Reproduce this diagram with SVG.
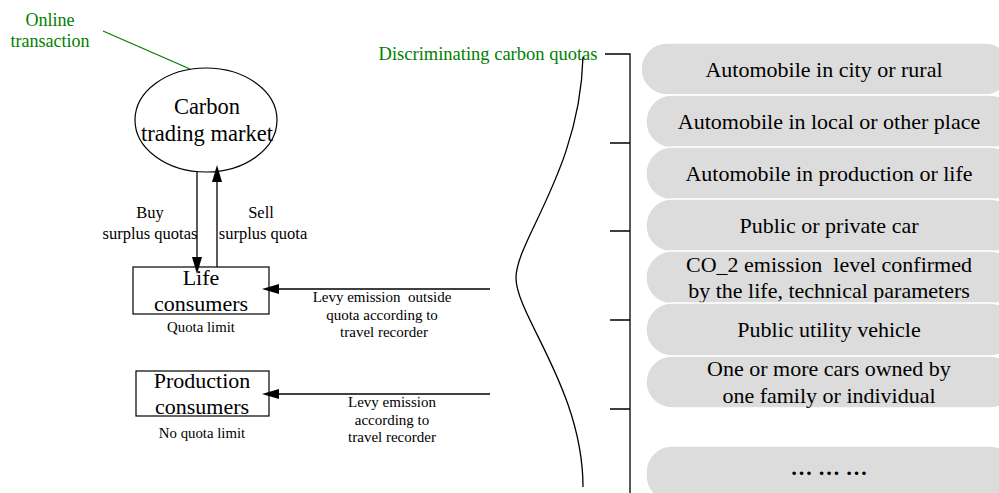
<svg xmlns="http://www.w3.org/2000/svg" width="999" height="493" viewBox="0 0 999 493">
<style>
.pill{fill:#dcdcdc;stroke:#fff;stroke-width:1.5}
.box{fill:#fff;stroke:#000;stroke-width:1.2}
.ln{fill:none;stroke:#000;stroke-width:1.3}
text{white-space:pre}
</style>
<defs>
<marker id="ah" viewBox="0 0 10 10" refX="10" refY="5" markerWidth="10" markerHeight="10" markerUnits="userSpaceOnUse" orient="auto" overflow="visible">
<path d="M0,0 L10,5 L0,10 Z" fill="#000" transform="scale(1.7,1)"/>
</marker>
</defs>
<rect width="999" height="493" fill="#fff"/>
<g font-family="Liberation Serif, Times New Roman, serif" text-anchor="middle" fill="#000">
<g id="pills" font-size="22">
<g id="p1"><rect class="pill" x="641" y="43" width="370" height="52" rx="26"/><text x="824" y="77">Automobile in city or rural</text></g>
<g id="p2"><rect class="pill" x="646" y="95" width="370" height="53" rx="26"/><text x="829" y="129">Automobile in local or other place</text></g>
<g id="p3"><rect class="pill" x="646" y="147" width="370" height="53" rx="26"/><text x="829" y="181">Automobile in production or life</text></g>
<g id="p4"><rect class="pill" x="646" y="199" width="370" height="53" rx="26"/><text x="829" y="233">Public or private car</text></g>
<g id="p5"><rect class="pill" x="646" y="251" width="370" height="53" rx="26"/><text x="829" y="272">CO_2 emission  level confirmed</text><text x="829" y="298">by the life, technical parameters</text></g>
<g id="p6"><rect class="pill" x="646" y="303" width="370" height="53" rx="26"/><text x="829" y="337">Public utility vehicle</text></g>
<g id="p7"><rect class="pill" x="646" y="356" width="370" height="52" rx="26"/><text x="829" y="376">One or more cars owned by</text><text x="829" y="403">one family or individual</text></g>
<g id="p8"><rect class="pill" x="646" y="446" width="370" height="56" rx="26"/><text x="829" y="475" font-weight="bold">… … …</text></g>
</g>
<g id="market" font-size="22.5"><ellipse class="box" cx="206" cy="120" rx="71" ry="52"/><text x="207" y="114">Carbon</text><text x="207" y="141">trading market</text></g>
<g id="life" font-size="22"><rect class="box" x="133" y="267" width="136" height="47"/><text x="201" y="285">Life</text><text x="201" y="311">consumers</text><text x="201" y="332" font-size="14.8">Quota limit</text></g>
<g id="production" font-size="22"><rect class="box" x="136" y="371" width="133" height="45"/><text x="202" y="388">Production</text><text x="202" y="414">consumers</text><text x="202" y="438" font-size="14.8">No quota limit</text></g>
<g id="online" fill="#008000" font-size="18"><text x="50" y="26">Online</text><text x="50" y="47">transaction</text></g>
<g id="discriminating" fill="#008000" font-size="18.5"><text x="488" y="60">Discriminating carbon quotas</text></g>
<g id="connectors">
<line x1="103" y1="31" x2="190" y2="69" stroke="#008000" stroke-width="1.3"/>
<line class="ln" x1="197" y1="172" x2="197" y2="267" marker-end="url(#ah)"/>
<line class="ln" x1="217" y1="267" x2="217" y2="172" marker-end="url(#ah)"/>
<line class="ln" x1="490" y1="289" x2="269" y2="289" marker-end="url(#ah)"/>
<line class="ln" x1="490" y1="394" x2="269" y2="394" marker-end="url(#ah)"/>
<path class="ln" d="M605,54 H630 V493 M610,143 H630 M610,231 H630 M610,320 H630 M610,409 H630"/>
<path class="ln" d="M583,57 C580,170 516,240 516,278 C516,315 583,390 583,487"/>
</g>
<g id="labels" font-size="15">
<text x="150" y="218" font-size="16.5">Buy</text><text x="150" y="239" font-size="16.5">surplus quotas</text>
<text x="261" y="218" font-size="16.5">Sell</text><text x="263" y="239" font-size="16.5">surplus quota</text>
<text x="382" y="302">Levy emission  outside</text><text x="382" y="320">quota according to</text><text x="384" y="337">travel recorder</text>
<text x="392" y="407">Levy emission</text><text x="392" y="425">according to</text><text x="392" y="442">travel recorder</text>
</g>
</g>
</svg>
